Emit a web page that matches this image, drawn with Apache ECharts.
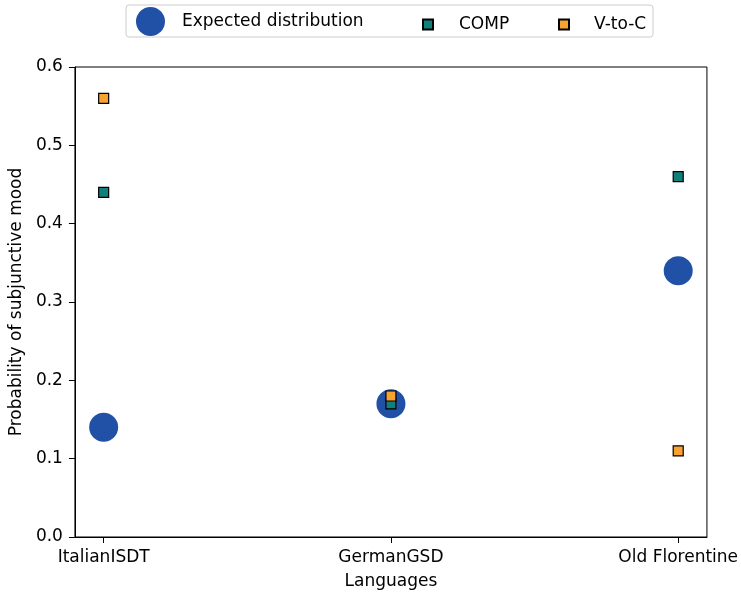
<!DOCTYPE html>
<html>
<head>
<meta charset="utf-8">
<script src="https://cdn.jsdelivr.net/npm/echarts@6/dist/echarts.min.js"></script>
<style>
  html, body { margin: 0; padding: 0; background: #fff; }
  #chart { width: 741px; height: 595px; }
</style>
</head>
<body>
<div id="chart"></div>
<script>
// data
const languages = ['ItalianISDT', 'GermanGSD', 'Old Florentine'];
const expected = [0.14, 0.17, 0.34];
const comp = [0.44, 0.17, 0.46];
const vToC = [0.56, 0.18, 0.11];
const yTicks = [0, 0.1, 0.2, 0.3, 0.4, 0.5, 0.6];

const font = 'DejaVu Sans';
const fs = 17;
const toPoints = (vals) => vals.map((v, i) => [i, v]);

const myChart = echarts.init(document.getElementById('chart'));

const option = {
  animation: false,
  textStyle: { fontFamily: font },
  grid: {
    left: 74, right: 34, top: 67, bottom: 58,
    show: true, borderColor: '#000', borderWidth: 1, backgroundColor: 'transparent'
  },
  graphic: [{
    type: 'rect',
    shape: { x: 126, y: 5, width: 527, height: 32, r: 3 },
    style: { fill: '#fff', stroke: '#cccccc', lineWidth: 1 },
    z: 0
  }],
  legend: [
    {
      data: [{ name: 'Expected distribution', icon: 'circle' }],
      left: 136, top: 7, padding: 0, itemWidth: 29, itemHeight: 29,
      textStyle: { fontFamily: font, fontSize: fs, color: '#000', padding: [0, 0, 0, 12] }
    },
    {
      data: [{ name: 'COMP', icon: 'rect' }],
      left: 422, top: 16, padding: 0, itemWidth: 10, itemHeight: 10,
      textStyle: { fontFamily: font, fontSize: fs, color: '#000', padding: [0, 0, 0, 21] }
    },
    {
      data: [{ name: 'V-to-C', icon: 'rect' }],
      left: 558, top: 16, padding: 0, itemWidth: 10, itemHeight: 10,
      textStyle: { fontFamily: font, fontSize: fs, color: '#000', padding: [0, 0, 0, 20] }
    }
  ],
  xAxis: {
    type: 'value',
    min: -0.1,
    max: 2.1,
    name: 'Languages',
    nameLocation: 'middle',
    nameGap: 36,
    nameTextStyle: { fontFamily: font, fontSize: fs, color: '#000' },
    splitLine: { show: false },
    axisLine: { show: true, onZero: false, lineStyle: { color: '#000' } },
    axisTick: { show: true, customValues: [0, 1, 2], length: 6, lineStyle: { color: '#000' } },
    axisLabel: {
      customValues: [0, 1, 2],
      formatter: (v) => languages[Math.round(v)],
      fontFamily: font, fontSize: fs, color: '#000', margin: 12
    }
  },
  yAxis: {
    type: 'value',
    min: 0,
    max: 0.6,
    interval: 0.1,
    name: 'Probability of subjunctive mood',
    nameLocation: 'middle',
    nameGap: 47,
    nameTextStyle: { fontFamily: font, fontSize: fs, color: '#000' },
    splitLine: { show: false },
    axisLine: { show: true, onZero: false, lineStyle: { color: '#000' } },
    axisTick: { show: true, length: 6, lineStyle: { color: '#000' } },
    axisLabel: {
      customValues: yTicks,
      formatter: (v) => v.toFixed(1),
      fontFamily: font, fontSize: fs, color: '#000', margin: 12
    }
  },
  series: [
    {
      name: 'Expected distribution',
      type: 'scatter',
      symbol: 'circle',
      symbolSize: 29,
      data: toPoints(expected),
      itemStyle: { color: '#2151a6', opacity: 1 },
      z: 2
    },
    {
      name: 'COMP',
      type: 'scatter',
      symbol: 'rect',
      symbolSize: 10,
      data: toPoints(comp),
      itemStyle: { color: '#117f7a', borderColor: '#000', borderWidth: 1.2, opacity: 1 },
      z: 3
    },
    {
      name: 'V-to-C',
      type: 'scatter',
      symbol: 'rect',
      symbolSize: 10,
      data: toPoints(vToC),
      itemStyle: { color: '#f8a231', borderColor: '#000', borderWidth: 1.2, opacity: 1 },
      z: 4
    }
  ]
};

myChart.setOption(option);
</script>
</body>
</html>
